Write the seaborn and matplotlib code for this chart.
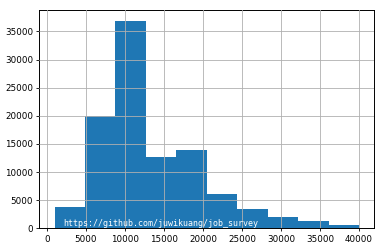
import matplotlib
matplotlib.use("Agg")
import matplotlib.pyplot as plt
import seaborn as sns
import numpy as np
import pandas as pd

# Histogram of salaries (10 bins between min and max)
bin_min = 1000
bin_max = 40000
n_bins = 10
counts = [3800, 19900, 36900, 12700, 13900, 6050, 3400, 1950, 1300, 650]
xticks = [0, 5000, 10000, 15000, 20000, 25000, 30000, 35000, 40000]
yticks = [0, 5000, 10000, 15000, 20000, 25000, 30000, 35000]
watermark = "https://github.com/juwikuang/job_survey"

edges = np.linspace(bin_min, bin_max, n_bins + 1)
centers = (edges[:-1] + edges[1:]) / 2
df = pd.DataFrame({"salary": centers, "count": counts})

plt.rcParams['font.family'] = ['DejaVu Sans']
fig = plt.figure(figsize=(3.84, 2.5), dpi=100)
ax = fig.add_axes([39.3 / 384, 1 - 228.3 / 250, (374.3 - 39.3) / 384, (228.3 - 10.3) / 250])

sns.histplot(data=df, x="salary", weights="count", bins=n_bins,
             binrange=(bin_min, bin_max), ax=ax,
             color="#1f77b4", alpha=1, edgecolor="none", linewidth=0)

ax.set_xlim(bin_min - 0.05 * (bin_max - bin_min), bin_max + 0.05 * (bin_max - bin_min))
ax.set_ylim(0, max(counts) * 1.05)
ax.set_xticks(xticks)
ax.set_yticks(yticks)
ax.set_xlabel("")
ax.set_ylabel("")
ax.set_axisbelow(False)
ax.grid(True, color="#b0b0b0", linewidth=0.6)
ax.tick_params(labelsize=6.3, length=2.5, width=0.6, pad=2)
for s in ax.spines.values():
    s.set_linewidth(0.7)
    s.set_color("black")

ax.text(0.07, 0.02, watermark, transform=ax.transAxes, color="white",
        fontsize=6, family="DejaVu Sans Mono", va="center", ha="left")

fig.savefig("out.png", dpi=100)
